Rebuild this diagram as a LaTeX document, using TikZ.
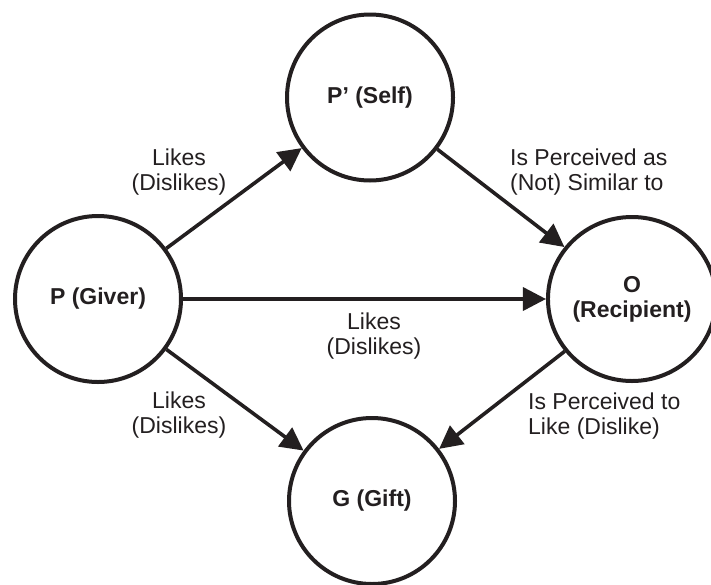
\documentclass[tikz,border=0pt]{standalone}
\usepackage{fontspec}
\setmainfont{Liberation Sans}
\usetikzlibrary{arrows.meta,shapes.geometric}
\definecolor{ink}{RGB}{35,31,32}
\tikzset{
  ball/.style={circle,draw=ink,line width=4pt,minimum size=166pt,inner sep=0pt,
    font=\fontsize{23pt}{25pt}\selectfont\bfseries,text=ink,align=center},
  lbl/.style={font=\fontsize{23pt}{25.5pt}\selectfont,text=ink,inner sep=0pt},
  arr/.style={draw=ink,line width=3.6pt,-{Triangle[length=23pt,width=23pt]}}
}
\begin{document}
\begin{tikzpicture}[x=1pt,y=-1pt]
\useasboundingbox (0,0) rectangle (711,584);
\begin{scope}
\clip (0,0) rectangle (711,584);
\node[ball] (P) at (98,299) {P (Giver)};
\node[ball] (S) at (370,97.5) {P’ (Self)};
\node[ball] (G) at (372,501) {G (Gift)};
\node[ball,ellipse,minimum width=150pt,minimum height=164pt] (O) at (632,299) {O\\(Recipient)};
\end{scope}
\draw[arr] (P) -- (S);
\draw[arr] (P) -- (O);
\draw[arr] (S) -- (O);
\draw[arr] (P) -- (G);
\draw[arr] (O) -- (G);
\node[lbl,align=center] (l1) at (179,172) {Likes\\(Dislikes)};
\node[lbl,align=left,anchor=west] (l2) at (510,172) {Is Perceived as\\(Not) Similar to};
\node[lbl,align=center] (l3) at (374,336) {Likes\\(Dislikes)};
\node[lbl,align=center] (l4) at (179,415) {Likes\\(Dislikes)};
\node[lbl,align=left,anchor=west] (l5) at (528,416) {Is Perceived to\\Like (Dislike)};
\end{tikzpicture}
\end{document}
